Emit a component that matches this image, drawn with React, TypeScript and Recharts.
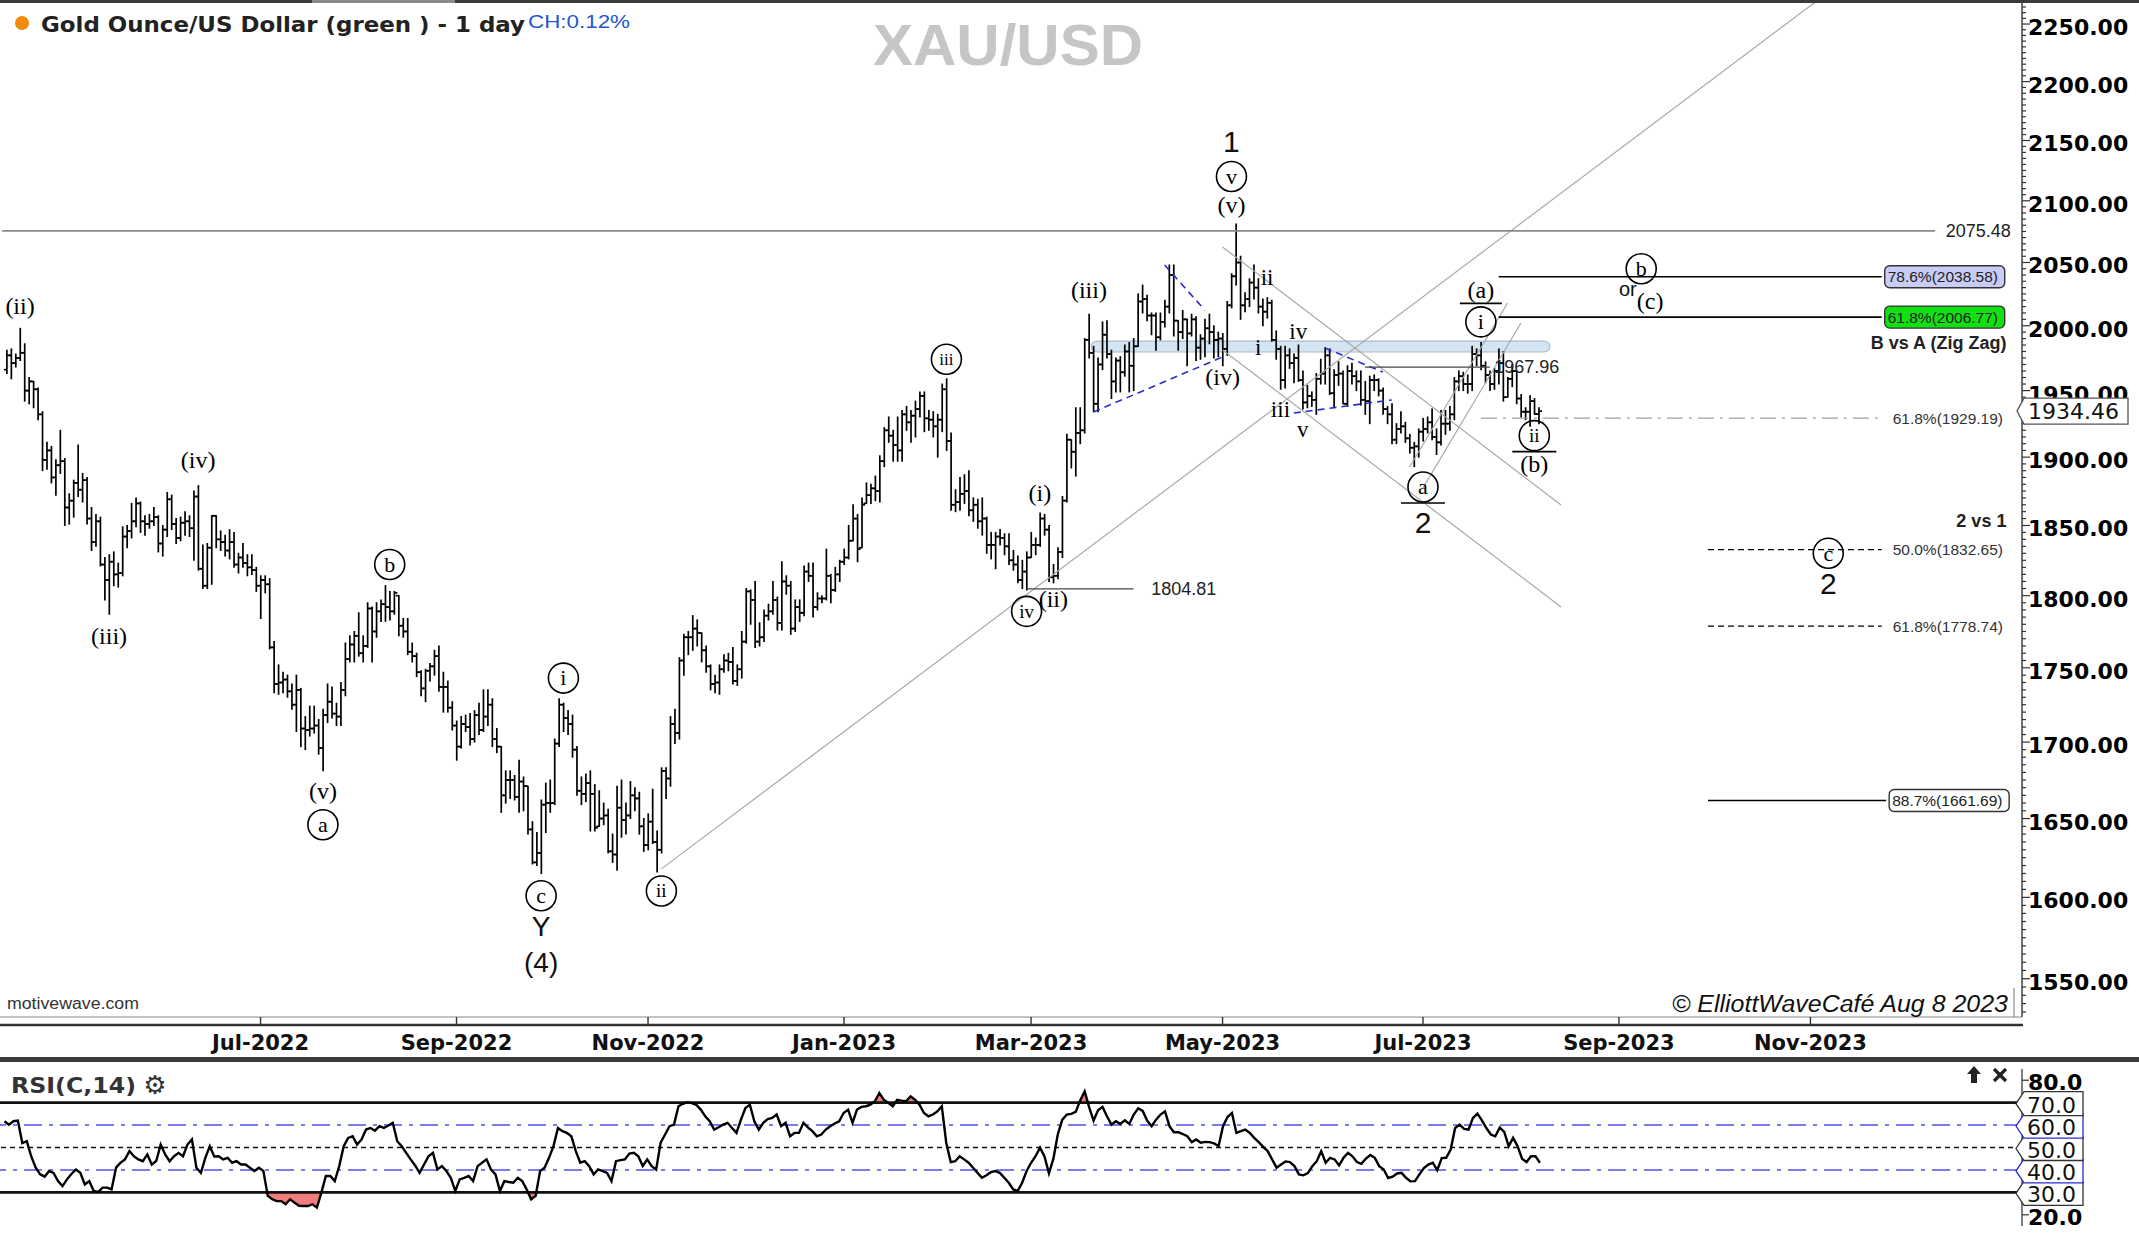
import React from 'react';
import {
  ComposedChart, Bar, Line, Area, XAxis, YAxis,
  ReferenceLine, ReferenceDot, ReferenceArea,
} from 'recharts';

type HLC = [number, number, number];

// daily XAU/USD bars, [high, low, close]
const apr22: HLC[] = [
  [1981, 1963, 1977], [1982, 1959, 1971], [1978, 1968, 1975], [1998, 1973, 1979], [1986, 1942, 1950],
  [1960, 1940, 1957], [1957, 1937, 1951], [1952, 1928, 1932], [1934, 1890, 1898], [1911, 1891, 1905],
  [1908, 1881, 1885], [1898, 1872, 1894], [1920, 1888, 1897],
];
const may22: HLC[] = [
  [1899, 1850, 1863], [1873, 1851, 1868], [1883, 1856, 1881], [1909, 1871, 1876], [1888, 1867, 1883],
  [1885, 1851, 1855], [1863, 1832, 1838], [1858, 1835, 1853], [1856, 1821, 1822], [1827, 1797, 1811],
  [1829, 1787, 1824], [1831, 1807, 1815], [1823, 1806, 1816], [1849, 1814, 1842], [1850, 1834, 1846],
  [1866, 1841, 1853], [1870, 1849, 1866], [1867, 1845, 1853], [1857, 1843, 1851], [1858, 1848, 1853],
  [1863, 1850, 1856], [1857, 1831, 1837],
];
const jun22: HLC[] = [
  [1850, 1828, 1847], [1874, 1842, 1869], [1872, 1847, 1851], [1855, 1837, 1841], [1856, 1839, 1852],
  [1860, 1843, 1853], [1857, 1842, 1848], [1875, 1825, 1871], [1879, 1818, 1819], [1836, 1805, 1807],
  [1837, 1805, 1834], [1857, 1808, 1857], [1857, 1834, 1840], [1846, 1832, 1838], [1843, 1828, 1832],
  [1847, 1826, 1838], [1845, 1820, 1822], [1830, 1816, 1827], [1837, 1820, 1823], [1829, 1814, 1820],
  [1829, 1815, 1818], [1820, 1803, 1807],
];
const jul22: HLC[] = [
  [1814, 1784, 1811], [1814, 1802, 1808], [1812, 1763, 1764], [1768, 1733, 1739], [1752, 1732, 1740],
  [1747, 1733, 1742], [1745, 1730, 1734], [1739, 1722, 1725], [1745, 1707, 1735], [1736, 1697, 1709],
  [1717, 1695, 1708], [1724, 1704, 1709], [1724, 1706, 1711], [1715, 1692, 1696], [1722, 1681, 1718],
  [1739, 1713, 1727], [1737, 1716, 1719], [1726, 1711, 1717], [1740, 1711, 1735], [1767, 1731, 1756],
  [1772, 1754, 1766],
];
const aug22: HLC[] = [
  [1775, 1754, 1772], [1788, 1758, 1760], [1772, 1754, 1765], [1795, 1764, 1791], [1792, 1754, 1775],
  [1795, 1771, 1789], [1797, 1782, 1794], [1807, 1782, 1792], [1803, 1783, 1789], [1803, 1787, 1802],
  [1800, 1772, 1779], [1784, 1771, 1775], [1784, 1759, 1761], [1767, 1754, 1758], [1760, 1744, 1747],
  [1748, 1731, 1736], [1749, 1727, 1748], [1753, 1741, 1751], [1762, 1745, 1758], [1765, 1734, 1737],
  [1747, 1720, 1737], [1741, 1720, 1723], [1727, 1708, 1711],
];
const sep22: HLC[] = [
  [1714, 1688, 1697], [1717, 1696, 1712], [1718, 1707, 1710], [1719, 1698, 1702], [1721, 1700, 1718],
  [1726, 1705, 1708], [1735, 1707, 1717], [1735, 1711, 1725], [1729, 1697, 1702], [1709, 1693, 1697],
  [1697, 1654, 1665], [1681, 1660, 1675], [1681, 1663, 1675], [1678, 1662, 1664], [1688, 1654, 1674],
  [1677, 1655, 1671], [1671, 1640, 1643], [1648, 1621, 1622], [1641, 1620, 1628], [1662, 1615, 1659],
  [1673, 1641, 1660], [1675, 1654, 1660],
];
const oct22: HLC[] = [
  [1702, 1659, 1699], [1729, 1697, 1725], [1726, 1707, 1716], [1721, 1705, 1712], [1718, 1690, 1695],
  [1697, 1665, 1668], [1677, 1659, 1666], [1679, 1661, 1673], [1681, 1642, 1666], [1672, 1642, 1644],
  [1668, 1645, 1650], [1660, 1646, 1652], [1656, 1628, 1629], [1640, 1622, 1627], [1671, 1617, 1657],
  [1675, 1638, 1649], [1660, 1640, 1652], [1674, 1650, 1665], [1670, 1655, 1663], [1667, 1640, 1645],
  [1650, 1629, 1633],
];
const nov22: HLC[] = [
  [1653, 1630, 1648], [1669, 1634, 1635], [1642, 1616, 1630], [1683, 1628, 1681], [1683, 1663, 1676],
  [1717, 1671, 1712], [1722, 1699, 1706], [1757, 1702, 1755], [1773, 1745, 1771], [1775, 1759, 1771],
  [1786, 1762, 1777], [1783, 1765, 1774], [1774, 1754, 1762], [1765, 1747, 1751], [1752, 1735, 1739],
  [1745, 1733, 1740], [1752, 1732, 1749], [1759, 1747, 1755], [1760, 1748, 1754], [1764, 1739, 1741],
  [1752, 1738, 1749], [1775, 1743, 1768],
];
const dec22: HLC[] = [
  [1805, 1767, 1803], [1804, 1780, 1797], [1810, 1764, 1768], [1781, 1765, 1771], [1790, 1768, 1786],
  [1794, 1783, 1789], [1810, 1787, 1797], [1799, 1776, 1781], [1824, 1776, 1810], [1814, 1801, 1807],
  [1810, 1773, 1777], [1797, 1775, 1792], [1797, 1782, 1788], [1821, 1786, 1817], [1823, 1810, 1814],
  [1823, 1785, 1792], [1802, 1790, 1798], [1800, 1795, 1798], [1833, 1797, 1814], [1815, 1795, 1804],
  [1820, 1803, 1815], [1825, 1810, 1824],
];
const jan23: HLC[] = [
  [1833, 1822, 1827], [1850, 1826, 1839], [1865, 1839, 1855], [1858, 1824, 1833], [1870, 1834, 1865],
  [1881, 1866, 1872], [1880, 1866, 1877], [1886, 1868, 1875], [1901, 1867, 1897], [1922, 1893, 1920],
  [1930, 1911, 1916], [1920, 1897, 1909], [1930, 1897, 1905], [1935, 1897, 1932], [1938, 1920, 1926],
  [1935, 1911, 1931], [1942, 1915, 1936], [1949, 1930, 1946], [1949, 1919, 1929], [1935, 1920, 1928],
  [1934, 1915, 1923], [1932, 1900, 1928],
];
const feb23: HLC[] = [
  [1955, 1919, 1951], [1959, 1905, 1912], [1918, 1861, 1865], [1876, 1860, 1867], [1885, 1861, 1873],
  [1887, 1866, 1875], [1890, 1857, 1861], [1870, 1853, 1865], [1869, 1848, 1853], [1870, 1843, 1855],
  [1856, 1830, 1836], [1845, 1826, 1836], [1845, 1819, 1842], [1847, 1836, 1841], [1844, 1829, 1835],
  [1844, 1822, 1825], [1832, 1818, 1822], [1828, 1809, 1811], [1825, 1805, 1817], [1831, 1804, 1827],
];
const mar23: HLC[] = [
  [1845, 1827, 1836], [1841, 1829, 1836], [1859, 1835, 1855], [1858, 1843, 1847], [1850, 1810, 1813],
  [1822, 1809, 1814], [1834, 1812, 1831], [1871, 1827, 1868], [1917, 1867, 1913], [1913, 1892, 1904],
  [1937, 1886, 1918], [1937, 1910, 1920], [1990, 1918, 1989], [2009, 1975, 1979], [1984, 1934, 1940],
  [1975, 1934, 1970], [2003, 1966, 1993], [2004, 1975, 1978], [1981, 1944, 1957], [1975, 1949, 1973],
  [1976, 1949, 1964], [1985, 1961, 1980], [1987, 1949, 1969],
];
const apr23: HLC[] = [
  [1990, 1950, 1984], [2025, 1984, 2019], [2032, 2010, 2021], [2024, 2004, 2008], [2010, 1993, 2008],
  [2010, 1981, 1991], [2010, 1989, 2003], [2020, 1999, 2015], [2048, 2010, 2040], [2048, 1992, 2004],
  [2004, 1981, 1995], [2012, 1990, 2005], [2005, 1969, 1994], [2009, 1992, 2005], [2007, 1973, 1983],
  [1993, 1974, 1990], [2005, 1976, 1998], [2009, 1986, 1995], [2000, 1975, 1989], [1995, 1976, 1990],
];
const may23: HLC[] = [
  [1994, 1969, 1982], [2019, 1977, 2016], [2041, 2014, 2039], [2081, 2032, 2050], [2055, 2005, 2016],
  [2026, 2011, 2021], [2037, 2015, 2034], [2048, 2021, 2030], [2037, 2010, 2015], [2021, 2000, 2011],
  [2022, 2006, 2018], [2020, 1988, 1989], [1996, 1974, 1982], [1984, 1951, 1958], [1984, 1952, 1977],
  [1982, 1967, 1971], [1978, 1956, 1975], [1985, 1957, 1958], [1965, 1936, 1941], [1954, 1937, 1946],
  [1949, 1938, 1943], [1963, 1932, 1959], [1974, 1955, 1963],
];
const jun23: HLC[] = [
  [1983, 1955, 1977], [1982, 1947, 1948], [1966, 1938, 1962], [1972, 1954, 1963], [1965, 1940, 1940],
  [1969, 1938, 1965], [1971, 1955, 1961], [1965, 1950, 1957], [1965, 1939, 1943], [1957, 1932, 1942],
  [1961, 1925, 1958], [1962, 1950, 1958], [1959, 1946, 1950], [1952, 1932, 1936], [1938, 1925, 1932],
  [1940, 1910, 1913], [1925, 1910, 1921], [1934, 1918, 1923], [1926, 1911, 1914], [1917, 1903, 1907],
  [1911, 1893, 1908], [1921, 1900, 1919],
];
const jul23: HLC[] = [
  [1929, 1912, 1921], [1930, 1918, 1926], [1936, 1913, 1915], [1921, 1902, 1911], [1935, 1909, 1925],
  [1935, 1917, 1925], [1938, 1920, 1932], [1960, 1928, 1957], [1965, 1950, 1961], [1964, 1950, 1955],
  [1962, 1948, 1955], [1984, 1950, 1978], [1982, 1969, 1977], [1987, 1966, 1969], [1972, 1956, 1962],
  [1965, 1950, 1955], [1967, 1951, 1965], [1982, 1955, 1971], [1980, 1942, 1945], [1960, 1945, 1959],
  [1970, 1953, 1965],
];
const aug23: HLC[] = [
  [1965, 1940, 1944], [1947, 1930, 1934], [1937, 1928, 1934], [1946, 1923, 1942], [1944, 1932, 1932.2],
  [1937, 1925, 1934.46],
];
const firstOpen = 1966;
const lastPrice = 1934.46;

// RSI(C,14), one value per bar
const rsiApr22 = [61.7, 60.2, 61.7, 62, 52, 52.8, 46, 41, 38, 37, 39.5, 38.7, 35];
const rsiMay22 = [32.8, 35.8, 38.2, 40.2, 38.7, 33.5, 35, 30.6, 30.2, 32.1, 32.1, 31.3, 41, 43.2, 44.7, 48.4, 46.1, 44.7, 43.9, 46.9, 42.4, 44];
const rsiJun22 = [51.3, 46.9, 43.9, 46.1, 47.6, 46.1, 51.3, 53.6, 41, 38.7, 45.4, 50.6, 46, 46.1, 44.7, 45.4, 43.2, 43.9, 42.4, 42.4, 41, 39.5];
const rsiJul22 = [41, 39.5, 28.4, 26.9, 26.1, 26.1, 24.7, 26.9, 25.4, 24, 23.9, 23.9, 24.7, 23.2, 29.9, 37.3, 37.3, 35, 41.7, 50.6, 54.3];
const rsiAug22 = [55, 51.3, 53.6, 58, 58.7, 57.5, 59.5, 58.7, 59.8, 61, 52.8, 50.6, 47.6, 44.7, 42, 38.7, 42.4, 46.1, 47.6, 40.2, 41.7, 39.5, 36.5];
const rsiSep22 = [30.6, 35.8, 36.5, 37.3, 35, 41.7, 43.2, 44.7, 40.2, 38, 30.6, 35, 34.6, 34.3, 36.5, 35, 31.3, 26.9, 28.4, 39.5, 41, 45.4];
const rsiOct22 = [50.6, 58.7, 57.3, 56.5, 55, 48.4, 43.2, 43.9, 41.7, 38, 40.2, 39.5, 38.7, 35, 43.9, 44.4, 44.7, 47.3, 47.6, 46.1, 41.7];
const rsiNov22 = [44.7, 41.7, 40.2, 52.1, 55.8, 59.5, 60.2, 68.4, 69.5, 70.2, 69.8, 69, 66.9, 63.9, 61.7, 58, 59, 60.2, 61, 58.7, 56.5, 62.4];
const rsiDec22 = [67.6, 69.1, 61.7, 58, 61, 62.7, 63.2, 64.7, 59.5, 61, 55, 56.5, 56.5, 61, 59, 57.3, 55, 55.8, 58, 59.5, 60.7, 61.7];
const rsiJan23 = [65.4, 66.9, 61, 66.9, 68.1, 68.4, 69.1, 70.6, 74.3, 71.3, 69.9, 68.4, 71.3, 70.9, 70.6, 72.8, 71.3, 69.1, 65.4, 63.9, 64.7, 66.1];
const rsiFeb23 = [68.4, 52, 43.5, 43.9, 46.1, 44.7, 43.2, 41, 38.7, 36.5, 37.6, 39, 39.5, 38.7, 36.5, 34.3, 31.3, 30.6, 34.3, 39.5];
const rsiMar23 = [43.2, 46.1, 49.9, 46, 38.5, 45, 56, 62.4, 64.7, 65, 65.9, 71, 75, 68, 62, 66.6, 68.1, 63.9, 60.2, 61.7, 60.5, 62.1, 60.5];
const rsiApr23 = [64.7, 67.5, 66.3, 62, 59.5, 62.4, 64.7, 66.1, 59.5, 56.8, 56.8, 56, 55, 52.4, 53.6, 52.1, 52.5, 52.4, 51.8, 50.6];
const rsiMay23 = [59.5, 63.6, 65.4, 56.5, 57.3, 58, 56.5, 54.3, 52.4, 50.3, 48.4, 44.7, 41, 42.4, 43.8, 43.5, 41.7, 38, 37.6, 38.6, 41.7, 43.9, 48.4];
const rsiJun23 = [43.2, 45.4, 44.7, 42, 45.4, 47.6, 46.1, 43.5, 42.7, 45, 46.7, 45.4, 41.7, 40.2, 36.4, 37, 38.4, 38.7, 36.5, 34.9, 35, 38];
const rsiJul23 = [40.8, 42.4, 43.2, 39.9, 45.3, 45.4, 49.1, 58.7, 60.2, 58.3, 58, 63.2, 65.1, 62.1, 58.7, 55.8, 55, 58.9, 57, 50.6, 54.3];
const rsiAug23 = [50.6, 45, 43.5, 46.1, 46.1, 43.2];

const monthTicks: [string, string][] = [
  ['2022-07', 'Jul-2022'], ['2022-09', 'Sep-2022'], ['2022-11', 'Nov-2022'],
  ['2023-01', 'Jan-2023'], ['2023-03', 'Mar-2023'], ['2023-05', 'May-2023'],
  ['2023-07', 'Jul-2023'], ['2023-09', 'Sep-2023'], ['2023-11', 'Nov-2023'],
];
const priceLabels = [1550, 1600, 1650, 1700, 1750, 1800, 1850, 1900, 1950, 2000, 2050, 2100, 2150, 2200, 2250];
const rsiTicks = [20, 30, 40, 50, 60, 70, 80];

// wave count: [bar index, price, text, kind]
const waveLabels: [number, number, string, string][] = [
  [3, 2015, '(ii)', 'p'], [23, 1771, '(iii)', 'p'], [43, 1897, '(iv)', 'p'],
  [71, 1667, '(v)', 'p'], [71, 1646, 'a', 'c'], [86, 1822, 'b', 'c'],
  [120, 1601, 'c', 'c'], [120, 1582, 'Y', 'b'], [120, 1560, '(4)', 'b'],
  [125, 1743, 'i', 'c'], [147, 1604, 'ii', 'c'], [211, 1974, 'iii', 'c'],
  [229, 1789, 'iv', 'c'], [235, 1797, '(ii)', 'p'], [232, 1873, '(i)', 'p'],
  [243, 2027, '(iii)', 'p'], [275, 2149, '1', 'B'], [275, 2120, 'v', 'c'],
  [275, 2096, '(v)', 'p'], [273, 1960, '(iv)', 'p'],
  [283, 2038, 'ii', 's'], [281, 1983, 'i', 's'], [290, 1995, 'iv', 's'],
  [286, 1935, 'iii', 's'], [291, 1920, 'v', 's'],
  [318, 1878, 'a', 'cu'], [318, 1852, '2', 'B'],
  [331, 2027, '(a)', 'pu'], [331, 2003, 'i', 'c'],
  [343, 1916, 'ii', 'cu'], [343, 1894, '(b)', 'p'],
  [367, 2045, 'b', 'c'], [364, 2028, 'or', 'o'], [369, 2019, '(c)', 'p'],
  [409, 1830, 'c', 'c'], [409, 1808, '2', 'B'],
];

// [from bar, from price, to bar, to price, style]
const trendLines: [number, number, number, number, string][] = [
  [147, 1617.9, 409, 2278, 'gray'],
  [273, 2062.4, 349, 1864.9, 'gray'],
  [273, 1981.2, 349, 1792.1, 'gray'],
  [315, 1892.7, 337, 2017.8, 'gray'],
  [318, 1877.3, 340, 2002.2, 'gray'],
  [244, 1933.8, 273, 1975.8, 'blue'],
  [260, 2048, 269, 2012.3, 'blue'],
  [296, 1982.7, 309, 1964.2, 'blue'],
  [289, 1933.0, 311, 1942.9, 'blue'],
  [229, 1804.81, 253, 1804.81, 'black'],
  [305, 1967.96, 333, 1967.96, 'black'],
  [-1, 2075.48, 433, 2075.48, 'level'],
];

const fibLevels: { from: number; to: number; price: number; text: string; look: string }[] = [
  { from: 335, to: 421, price: 2038.58, text: '78.6%(2038.58)', look: 'lilac' },
  { from: 335, to: 421, price: 2006.77, text: '61.8%(2006.77)', look: 'green' },
  { from: 331, to: 421, price: 1929.19, text: '61.8%(1929.19)', look: 'dashdot' },
  { from: 382, to: 421, price: 1832.65, text: '50.0%(1832.65)', look: 'dash' },
  { from: 382, to: 421, price: 1778.74, text: '61.8%(1778.74)', look: 'dash' },
  { from: 382, to: 422, price: 1661.69, text: '88.7%(1661.69)', look: 'box' },
];

// free notes: [bar, price, text, anchor, bold]
const notes: [number, number, string, string, boolean][] = [
  [450, 2075.48, '2075.48', 'end', false],
  [449, 1986.6, 'B vs A (Zig Zag)', 'end', true],
  [449, 1853.2, '2 vs 1', 'end', true],
  [257, 1804.81, '1804.81', 'start', false],
  [334, 1967.96, '1967.96', 'start', false],
];

const priceMonths = [apr22, may22, jun22, jul22, aug22, sep22, oct22, nov22, dec22, jan23, feb23, mar23, apr23, may23, jun23, jul23, aug23];
const rsiMonths = [rsiApr22, rsiMay22, rsiJun22, rsiJul22, rsiAug22, rsiSep22, rsiOct22, rsiNov22, rsiDec22, rsiJan23, rsiFeb23, rsiMar23, rsiApr23, rsiMay23, rsiJun23, rsiJul23, rsiAug23];
const bars = priceMonths.flat();
const rsiValues = rsiMonths.flat();

// weekday slots, one empty slot before the first bar, running on into the blank future area
const slots: string[] = [];
for (let t = Date.UTC(2022, 3, 12); slots.length < 454; t += 86400000) {
  const wd = new Date(t).getUTCDay();
  if (wd !== 0 && wd !== 6) slots.push(new Date(t).toISOString().slice(0, 10));
}
const at = (k: number) => slots[k + 1];

const rows = slots.map((d, j) => {
  const k = j - 1;
  const b = bars[k];
  if (!b) return { d };
  const [h, l, c] = b;
  const prev = k > 0 ? bars[k - 1][2] : firstOpen;
  const o = Math.min(h, Math.max(l, prev));
  const r = rsiValues[k];
  return { d, range: [l, h], h, l, c, o, rsi: r, ob: [70, Math.max(70, r)], os: [Math.min(30, r), 30] };
});

const tickDates = monthTicks.map(([m]) => slots.find((s) => s.startsWith(m)) as string);
const tickName: Record<string, string> = {};
monthTicks.forEach(([, lab], i) => { tickName[tickDates[i]] = lab; });

const priceTicks: number[] = [];
for (let v = 1530; v <= 2270; v += 5) priceTicks.push(v);
priceTicks.push(lastPrice);

const SERIF = '"Liberation Serif", "DejaVu Serif", serif';
const SANS = '"Liberation Sans", Arial, sans-serif';
const VERD = '"DejaVu Sans", Verdana, sans-serif';

const OhlcShape = (props: any) => {
  const p = props.payload ?? props;
  const { x, y, width, height } = props;
  if (!p || p.h == null || !isFinite(y) || !isFinite(height)) return null;
  const cx = x + width / 2;
  const span = Math.log(p.h / p.l) || 1;
  const yc = y + (height * Math.log(p.h / p.c)) / span;
  const yo = y + (height * Math.log(p.h / p.o)) / span;
  return (
    <g stroke="#000" strokeWidth={1.7}>
      <line x1={cx} x2={cx} y1={y - 0.5} y2={y + Math.max(height, 1) + 0.5} />
      <line x1={cx - 3} x2={cx} y1={yo} y2={yo} />
      <line x1={cx} x2={cx + 3} y1={yc} y2={yc} />
    </g>
  );
};

const MonthTick = (props: any) => {
  const { x, y, payload } = props;
  return (
    <g>
      <line x1={x} x2={x} y1={y} y2={y + 8} stroke="#333" strokeWidth={1.4} />
      <text x={x} y={y + 33} textAnchor="middle" fontFamily={VERD} fontWeight="bold" fontSize={21} fill="#111">
        {tickName[payload.value] ?? ''}
      </text>
    </g>
  );
};

const PriceTick = (props: any) => {
  const { x, y, payload } = props;
  const v = payload.value;
  if (v === lastPrice) {
    return (
      <g>
        <path d={`M${x - 5},${y} L${x + 2},${y - 13} H${x + 106} V${y + 13} H${x + 2} Z`} fill="#fff" stroke="#555" strokeWidth={1.3} />
        <text x={x + 6} y={y + 8} fontFamily={VERD} fontSize={22} fill="#111">{v.toFixed(2)}</text>
      </g>
    );
  }
  const major = priceLabels.includes(v);
  return (
    <g>
      <line x1={x} x2={x + (major ? 8 : 4)} y1={y} y2={y} stroke="#333" strokeWidth={1.2} />
      {major && (
        <text x={x + 6} y={y + 11} fontFamily={VERD} fontWeight="bold" fontSize={22} fill="#000">{v.toFixed(2)}</text>
      )}
    </g>
  );
};

const RsiTick = (props: any) => {
  const { x, y, payload } = props;
  const v = payload.value;
  if (v === 80 || v === 20) {
    return (
      <g>
        <line x1={x} x2={x + 7} y1={y} y2={y} stroke="#333" strokeWidth={1.2} />
        <text x={x + 6} y={y + 10} fontFamily={VERD} fontWeight="bold" fontSize={22} fill="#000">{v.toFixed(1)}</text>
      </g>
    );
  }
  const blue = v === 60 || v === 40;
  return (
    <g>
      <path d={`M${x - 6},${y + 1} L${x + 2},${y - 11} H${x + 61} V${y + 13} H${x + 2} Z`} fill="#fff" stroke={blue ? '#2a2ad6' : '#333'} strokeWidth={1.3} />
      <text x={x + 5} y={y + 10} fontFamily={VERD} fontSize={22} fill="#111">{v.toFixed(1)}</text>
    </g>
  );
};

const WaveMark = ({ cx, cy, text, kind }: { cx: number; cy: number; text: string; kind: string }) => {
  if (kind === 'c' || kind === 'cu') {
    const fs = text.length > 2 ? 17 : text.length > 1 ? 19 : 22;
    return (
      <g>
        <circle cx={cx} cy={cy} r={15} fill="none" stroke="#000" strokeWidth={1.6} />
        <text x={cx} y={cy + fs * 0.33} textAnchor="middle" fontFamily={SERIF} fontSize={fs} fill="#000">{text}</text>
        {kind === 'cu' && <line x1={cx - 22} x2={cx + 22} y1={cy + 16} y2={cy + 16} stroke="#000" strokeWidth={1.7} />}
      </g>
    );
  }
  if (kind === 'B') {
    return <text x={cx} y={cy + 10} textAnchor="middle" fontFamily={SANS} fontSize={30} fill="#111">{text}</text>;
  }
  if (kind === 'b') {
    return <text x={cx} y={cy + 10} textAnchor="middle" fontFamily={SANS} fontSize={28} fill="#111">{text}</text>;
  }
  if (kind === 'o') {
    return <text x={cx} y={cy + 6} textAnchor="middle" fontFamily={SANS} fontSize={20} fill="#111">{text}</text>;
  }
  const fs = kind === 's' ? 23 : 24;
  return (
    <g>
      <text x={cx} y={cy + 7} textAnchor="middle" fontFamily={SERIF} fontSize={fs} fill="#000">{text}</text>
      {kind === 'pu' && <line x1={cx - 21} x2={cx + 21} y1={cy + 12} y2={cy + 12} stroke="#000" strokeWidth={1.7} />}
    </g>
  );
};

const FibLabel = ({ cx, cy, text, look }: { cx: number; cy: number; text: string; look: string }) => {
  if (look === 'lilac' || look === 'green' || look === 'box') {
    const fill = look === 'lilac' ? '#c9ccf4' : look === 'green' ? '#12e012' : '#fff';
    return (
      <g>
        <rect x={cx + 3} y={cy - 11} width={120} height={22} rx={5} fill={fill} stroke="#333" strokeWidth={1.4} />
        <text x={cx + 6} y={cy + 5.5} fontFamily={SANS} fontSize={15.5} fill="#222">{text}</text>
      </g>
    );
  }
  return <text x={cx + 11} y={cy + 5.5} fontFamily={SANS} fontSize={15.5} fill="#333">{text}</text>;
};

const lineLook: Record<string, any> = {
  gray: { stroke: '#a8a8a8', strokeWidth: 1.2 },
  blue: { stroke: '#2b2bd0', strokeWidth: 1.6, strokeDasharray: '7 5' },
  black: { stroke: '#444', strokeWidth: 1.3 },
  level: { stroke: '#8a8a8a', strokeWidth: 1.6 },
};
const fibLook: Record<string, any> = {
  lilac: { stroke: '#000', strokeWidth: 1.6 },
  green: { stroke: '#000', strokeWidth: 1.6 },
  box: { stroke: '#000', strokeWidth: 1.6 },
  dash: { stroke: '#000', strokeWidth: 1.4, strokeDasharray: '6 4' },
  dashdot: { stroke: '#a0a0a0', strokeWidth: 1.3, strokeDasharray: '16 6 3 6' },
};

const Band = (props: any) => (
  <rect x={props.x} y={props.y} width={props.width} height={props.height} rx={6} fill="#d5e4f1" stroke="#a9bccd" strokeWidth={1.2} />
);

export default function App() {
  return (
    <div style={{ position: 'relative', width: 2139, height: 1236, background: '#fff', fontFamily: SANS, overflow: 'hidden' }}>
      <style>{'body{margin:0}'}</style>
      <div style={{ position: 'absolute', left: 0, top: 0 }}>
        <ComposedChart width={2139} height={1057} data={rows} margin={{ top: 0, right: 0, bottom: 0, left: 0 }}>
          <XAxis
            dataKey="d"
            ticks={tickDates}
            interval={0}
            tick={<MonthTick />}
            tickLine={false}
            tickSize={0}
            tickMargin={0}
            axisLine={{ stroke: '#888', strokeWidth: 1 }}
            height={40}
          />
          <YAxis
            orientation="right"
            width={117}
            scale="log"
            domain={[1527, 2271.2]}
            allowDataOverflow
            ticks={priceTicks}
            interval={0}
            tick={<PriceTick />}
            tickLine={false}
            tickSize={0}
            tickMargin={0}
            axisLine={{ stroke: '#444', strokeWidth: 1.5 }}
          />
          <ReferenceArea x1={at(244)} x2={at(346)} y1={1979.6} y2={1988.1} ifOverflow="visible" shape={Band} />
          {trendLines.map(([a, pa, b, pb, look], i) => (
            <ReferenceLine
              key={`t${i}`}
              segment={[{ x: at(a), y: pa }, { x: at(b), y: pb }]}
              ifOverflow="hidden"
              {...lineLook[look]}
            />
          ))}
          {fibLevels.map((f, i) => (
            <ReferenceLine
              key={`f${i}`}
              segment={[{ x: at(f.from), y: f.price }, { x: at(f.to), y: f.price }]}
              ifOverflow="hidden"
              {...fibLook[f.look]}
            />
          ))}
          <Bar dataKey="range" shape={OhlcShape} isAnimationActive={false} />
          {fibLevels.map((f, i) => (
            <ReferenceDot
              key={`fl${i}`}
              x={at(f.to)}
              y={f.price}
              r={1}
              ifOverflow="visible"
              shape={(p: any) => <FibLabel cx={p.cx} cy={p.cy} text={f.text} look={f.look} />}
            />
          ))}
          {notes.map(([k, pr, text, anchor, bold], i) => (
            <ReferenceDot
              key={`n${i}`}
              x={at(k)}
              y={pr}
              r={1}
              ifOverflow="visible"
              shape={(p: any) => (
                <text x={p.cx} y={p.cy + 6} textAnchor={anchor as any} fontFamily={SANS} fontWeight={bold ? 'bold' : 'normal'} fontSize={18} fill="#222">
                  {text}
                </text>
              )}
            />
          ))}
          {waveLabels.map(([k, pr, text, kind], i) => (
            <ReferenceDot
              key={`w${i}`}
              x={at(k)}
              y={pr}
              r={1}
              ifOverflow="visible"
              shape={(p: any) => <WaveMark cx={p.cx} cy={p.cy} text={text} kind={kind} />}
            />
          ))}
        </ComposedChart>
      </div>

      <div style={{ position: 'absolute', left: 0, top: 1062 }}>
        <ComposedChart width={2139} height={174} data={rows} margin={{ top: 7, right: 0, bottom: 10, left: 0 }}>
          <XAxis dataKey="d" hide />
          <YAxis
            orientation="right"
            width={117}
            domain={[15, 85]}
            allowDataOverflow
            ticks={rsiTicks}
            interval={0}
            tick={<RsiTick />}
            tickLine={false}
            tickSize={0}
            tickMargin={0}
            axisLine={{ stroke: '#555', strokeWidth: 1.5 }}
          />
          <ReferenceLine y={60} stroke="#7c7cf0" strokeWidth={2} strokeDasharray="18 7 4 7" />
          <ReferenceLine y={40} stroke="#7c7cf0" strokeWidth={2} strokeDasharray="18 7 4 7" />
          <ReferenceLine y={50} stroke="#111" strokeWidth={1.5} strokeDasharray="5 4" />
          <ReferenceLine y={70} stroke="#111" strokeWidth={2.6} />
          <ReferenceLine y={30} stroke="#111" strokeWidth={2.6} />
          <Area dataKey="ob" type="linear" stroke="none" fill="#ef7d7d" fillOpacity={1} isAnimationActive={false} activeDot={false} />
          <Area dataKey="os" type="linear" stroke="none" fill="#ef7d7d" fillOpacity={1} isAnimationActive={false} activeDot={false} />
          <Line dataKey="rsi" type="linear" stroke="#000" strokeWidth={2.4} dot={false} activeDot={false} isAnimationActive={false} />
        </ComposedChart>
      </div>

      <svg width={2139} height={1236} style={{ position: 'absolute', left: 0, top: 0, pointerEvents: 'none' }}>
        <rect x={0} y={0} width={2139} height={3} fill="#3a3a3a" />
        <rect x={312} y={0} width={143} height={3} fill="#8a8a8a" />
        <circle cx={22} cy={23} r={7} fill="#f28a0c" />
        <text x={41} y={32} fontFamily={VERD} fontWeight="bold" fontSize={21} fill="#222" textLength={484} lengthAdjust="spacingAndGlyphs">
          Gold Ounce/US Dollar (green ) - 1 day
        </text>
        <text x={528} y={28} fontFamily={SANS} fontSize={19} fill="#1f55d6" textLength={102} lengthAdjust="spacingAndGlyphs">
          CH:0.12%
        </text>
        <text x={1008} y={65} textAnchor="middle" fontFamily={SANS} fontWeight="bold" fontSize={58} fill="#c6c6c6" textLength={270} lengthAdjust="spacingAndGlyphs">
          XAU/USD
        </text>
        <text x={7} y={1009} fontFamily={SANS} fontSize={16} fill="#333" textLength={132} lengthAdjust="spacingAndGlyphs">
          motivewave.com
        </text>
        <text x={2008} y={1012} textAnchor="end" fontFamily={SANS} fontStyle="italic" fontSize={23} fill="#111" textLength={336} lengthAdjust="spacingAndGlyphs">
          © ElliottWaveCafé Aug 8 2023
        </text>
        <line x1={2014} x2={2014} y1={988} y2={1017} stroke="#777" strokeWidth={1} />
        <line x1={0} x2={2023} y1={1025} y2={1025} stroke="#333" strokeWidth={2.5} />
        <rect x={0} y={1057} width={2139} height={5} fill="#3a3a3a" />
        <text x={11} y={1093} fontFamily={VERD} fontWeight="bold" fontSize={21} fill="#333" textLength={125} lengthAdjust="spacingAndGlyphs">
          RSI(C,14)
        </text>
        <text x={155} y={1094} textAnchor="middle" fontFamily={VERD} fontSize={26} fill="#333">⚙</text>
        <path d="M1974,1066 L1981,1074 H1977 V1083 H1971 V1074 H1967 Z" fill="#222" />
        <line x1={1994} x2={2006} y1={1069} y2={1081} stroke="#222" strokeWidth={3.2} />
        <line x1={2006} x2={1994} y1={1069} y2={1081} stroke="#222" strokeWidth={3.2} />
      </svg>
    </div>
  );
}
